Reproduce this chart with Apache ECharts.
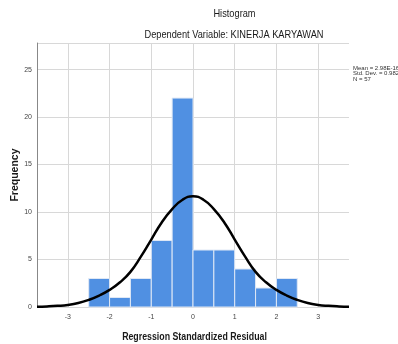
<!DOCTYPE html>
<html><head><meta charset="utf-8">
<script src="https://cdn.jsdelivr.net/npm/echarts@6/dist/echarts.min.js"></script>
<style>html,body{margin:0;padding:0;background:#fff}#c{width:398px;height:344px}</style>
</head><body><div id="c"></div>
<script>
// Histogram bins (standardized residual) and frequencies
const binStarts = [-2.5, -2.0, -1.5, -1.0, -0.5, 0.0, 0.5, 1.0, 1.5, 2.0];
const binEnds   = [-2.0, -1.5, -1.0, -0.5, 0.0, 0.5, 1.0, 1.5, 2.0, 2.5];
const counts    = [3, 1, 3, 7, 22, 6, 6, 4, 2, 3];
// Normal curve
const curveX = [-3.74,-3.5,-3.25,-3,-2.75,-2.5,-2.25,-2,-1.75,-1.5,-1.25,-1,-0.75,-0.5,-0.25,0,0.25,0.5,0.75,1,1.25,1.5,1.75,2,2.25,2.5,2.75,3,3.25,3.5,3.74];
const curveY = [0.03,0.06,0.12,0.22,0.42,0.75,1.2,1.8,2.6,3.7,5.3,7.1,8.9,10.3,11.3,11.65,11.3,10.3,8.9,7.1,5.3,3.7,2.6,1.8,1.2,0.75,0.42,0.22,0.12,0.06,0.03];
const xTicks = [-3, -2, -1, 0, 1, 2, 3];
const statsLines = ['Mean = 2.98E-16', 'Std. Dev. = 0.982', 'N = 57'];

const chart = echarts.init(document.getElementById('c'), null, {renderer: 'canvas'});
const FONT = 'Liberation Sans';
function txt(text, x, y, font, opts) {
  return Object.assign({
    type: 'text', x: x, y: y, scaleX: 0.88,
    style: {text: text, font: font, fill: '#1a1a1a', align: 'center', verticalAlign: 'middle'}
  }, opts || {});
}
chart.setOption({
  animation: false,
  backgroundColor: '#fff',
  textStyle: {fontFamily: FONT},
  graphic: [
    txt('Histogram', 234.5, 14.5, '10.5px ' + FONT),
    txt('Dependent Variable: KINERJA KARYAWAN', 234, 35, '10.5px ' + FONT),
    txt('Regression Standardized Residual', 194.5, 337, 'bold 10px ' + FONT),
    txt('Frequency', 15.5, 175, 'bold 10.5px ' + FONT, {rotation: Math.PI / 2, scaleX: 1, scaleY: 1}),
    {type: 'text', x: 353, y: 65, style: {text: statsLines.join('\n'), font: '6px ' + FONT, fill: '#333', lineHeight: 5.7}}
  ],
  grid: {left: 37, right: 49, top: 43, bottom: 37, outerBoundsMode: 'none', containLabel: false},
  xAxis: {
    type: 'value', min: -3.74, max: 3.74,
    axisLine: {show: false},
    axisTick: {show: false, customValues: xTicks},
    axisLabel: {customValues: xTicks, fontSize: 7, color: '#444', margin: 7},
    splitLine: {show: true, lineStyle: {color: '#d8d8d8', width: 1}}
  },
  yAxis: {
    type: 'value', min: 0, max: 27.8, interval: 5,
    axisLine: {show: true, onZero: false, lineStyle: {color: '#888', width: 1}},
    axisTick: {show: false},
    axisLabel: {fontSize: 7, color: '#444', margin: 5, showMaxLabel: false},
    splitLine: {show: true, lineStyle: {color: '#d8d8d8', width: 1}}
  },
  series: [
    {
      type: 'custom',
      data: binStarts.map((s, i) => [s, binEnds[i], counts[i]]),
      encode: {x: [0, 1], y: 2},
      renderItem: function (params, api) {
        const p0 = api.coord([api.value(0), api.value(2)]);
        const p1 = api.coord([api.value(1), 0]);
        return {
          type: 'rect',
          shape: {x: p0[0], y: p0[1], width: p1[0] - p0[0], height: p1[1] - p0[1]},
          style: {fill: '#5090e2', stroke: '#dfe8f5', lineWidth: 1}
        };
      },
      z: 2
    },
    {
      type: 'line', smooth: 0.5, showSymbol: false,
      data: curveX.map((x, i) => [x, curveY[i]]),
      lineStyle: {color: '#000', width: 2.5},
      z: 5
    }
  ]
});
</script></body></html>
